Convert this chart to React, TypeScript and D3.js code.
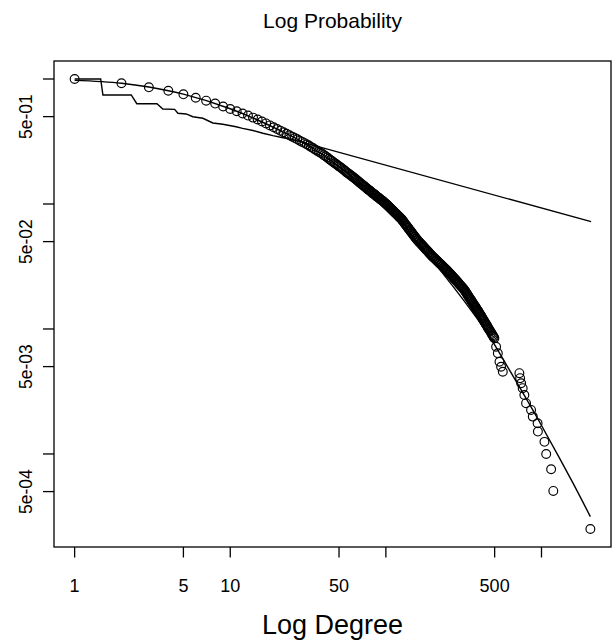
import React from 'react';
import * as d3 from 'd3';

// Empirical CCDF of the degree distribution (circles)
const degrees = [
  1, 2, 3, 4, 5, 6, 7, 8, 9, 10,
  11, 12, 13, 14, 15, 16, 17, 18, 19, 20, 21, 22, 23, 24, 25, 26, 27, 28, 29, 30,
  31, 32, 33, 34, 35, 36, 37, 38, 39, 40, 41, 42, 43, 44, 45, 46, 47, 48, 49, 50, 51, 52,
  54, 56, 58, 60, 62, 64, 66, 68, 70, 72, 74, 76, 78, 80, 82, 84, 86, 88, 90, 92, 94, 96, 98, 100,
  102, 104, 106, 108, 110, 112, 114, 116, 118, 120, 122, 124, 126, 128, 130,
  133, 136, 139, 142, 145, 148, 151, 154, 157, 160,
  164, 168, 172, 176, 180, 184, 188, 192, 196, 200,
  205, 210, 215, 220, 225, 230, 235, 240, 245, 250,
  255, 260, 265, 270, 275, 280, 285, 290, 295, 300,
  306, 312, 318, 324, 330, 336, 342, 348, 354, 360, 366, 372, 378, 384, 390, 396,
  403, 410, 417, 424, 431, 438, 445, 452, 459, 470, 480, 490,
  498, 511, 524, 537, 550, 564,
  721, 729, 740, 757, 776, 796, 857, 879, 944, 948, 1045, 1072, 1153, 1191, 2061,
  // further degrees inside the dense band
  53, 55, 57, 59, 61, 63, 65, 67, 69, 71, 73, 75, 77, 79, 81, 83, 85, 87, 89, 91, 93, 95, 97, 99,
  101, 103, 105, 107, 109, 111, 113, 115, 117, 119, 121, 123, 125, 127, 129,
  132, 135, 138, 141, 144, 147, 150, 153, 156, 159,
  162, 166, 170, 174, 178, 182, 186, 190, 194, 198,
  202, 207, 212, 217, 222, 227, 232, 237, 242, 247, 252, 257, 262, 267, 272, 277, 282, 287, 292, 297,
  303, 309, 315, 321, 327, 333, 339, 345, 351, 357, 363, 369, 375, 381, 387, 393, 399,
  406, 413, 420, 427, 434, 441, 448, 455, 464, 475, 485, 494,
];
const ccdf = [
  1.0, 0.924, 0.858, 0.806, 0.754, 0.708, 0.671, 0.636, 0.603, 0.575,
  0.552, 0.530, 0.510, 0.491, 0.474, 0.457, 0.441, 0.425, 0.411, 0.398, 0.386, 0.375, 0.365, 0.355, 0.346, 0.337, 0.329, 0.321, 0.314, 0.307,
  0.300, 0.294, 0.286, 0.280, 0.273, 0.268, 0.262, 0.257, 0.252, 0.246, 0.241, 0.236, 0.230, 0.225, 0.221, 0.216, 0.212, 0.208, 0.204, 0.200, 0.197, 0.193,
  0.186, 0.179, 0.174, 0.168, 0.163, 0.158, 0.153, 0.148, 0.144, 0.140, 0.136, 0.132, 0.129, 0.126, 0.122, 0.120, 0.117, 0.114, 0.112, 0.109, 0.107, 0.105, 0.1025, 0.1005,
  0.0981, 0.0958, 0.0936, 0.0915, 0.0895, 0.0875, 0.0856, 0.0838, 0.0821, 0.0804, 0.0788, 0.0773, 0.0757, 0.0738, 0.0720,
  0.0693, 0.0668, 0.0644, 0.0622, 0.0601, 0.0581, 0.0562, 0.0544, 0.0527, 0.0512,
  0.0495, 0.0480, 0.0465, 0.0450, 0.0437, 0.0424, 0.0412, 0.0400, 0.0389, 0.0379,
  0.0368, 0.0358, 0.0348, 0.0338, 0.0329, 0.0321, 0.0312, 0.0305, 0.0297, 0.0290,
  0.0282, 0.0275, 0.0268, 0.0261, 0.0254, 0.0248, 0.0242, 0.0236, 0.0230, 0.0225,
  0.0219, 0.0213, 0.0207, 0.0200, 0.0193, 0.0186, 0.0180, 0.0174, 0.0169, 0.0163, 0.0158, 0.0153, 0.0149, 0.0144, 0.0140, 0.0136,
  0.0131, 0.0127, 0.0122, 0.0118, 0.0114, 0.0110, 0.0107, 0.0103, 0.0100, 0.00953, 0.00910, 0.00873,
  0.00843, 0.00721, 0.00640, 0.00547, 0.00499, 0.00455,
  0.00443, 0.00404, 0.00368, 0.00336, 0.00296, 0.00255, 0.00225, 0.00199, 0.00176, 0.00151, 0.00125, 0.00100, 0.000755, 0.000506, 0.000251,
  0.1895, 0.1825, 0.1765, 0.171, 0.1655, 0.1605, 0.1555, 0.1505, 0.146, 0.142, 0.138, 0.134, 0.1305, 0.1275, 0.124, 0.121, 0.1185, 0.1155, 0.113, 0.1105, 0.108, 0.106, 0.1038, 0.1015,
  0.0993, 0.097, 0.0947, 0.0926, 0.0905, 0.0885, 0.0866, 0.0847, 0.083, 0.0813, 0.0796, 0.0781, 0.0765, 0.0748, 0.0729,
  0.0702, 0.0676, 0.0652, 0.0629, 0.0608, 0.0588, 0.0568, 0.055, 0.0533, 0.0517,
  0.0503, 0.0487, 0.0472, 0.0457, 0.0443, 0.043, 0.0418, 0.0406, 0.0394, 0.0384,
  0.0375, 0.0364, 0.0354, 0.0344, 0.0334, 0.0326, 0.0317, 0.0309, 0.0302, 0.0294, 0.0287, 0.0279, 0.0272, 0.0265, 0.0258, 0.0252, 0.0246, 0.024, 0.0234, 0.0228,
  0.0222, 0.0216, 0.021, 0.02035, 0.01965, 0.01895, 0.0183, 0.0177, 0.01715, 0.0166, 0.01605, 0.01555, 0.0151, 0.01465, 0.0142, 0.0138, 0.01335,
  0.0129, 0.01245, 0.012, 0.0116, 0.0112, 0.01085, 0.0105, 0.01015, 0.00977, 0.00931, 0.00891, 0.00858,
];

// Power-law fit line (stepped at small degrees, straight afterwards)
const powerDeg = [1, 1.47, 1.52, 2.31, 2.51, 3.38, 3.69, 4.39, 4.61, 5.21, 5.75, 6.67, 7.73, 8.96, 10.9, 12.0, 14.0, 16.2, 18.8, 21.8, 24.6, 2083];
const powerProb = [1, 1, 0.745, 0.745, 0.634, 0.634, 0.575, 0.572, 0.532, 0.525, 0.499, 0.485, 0.445, 0.434, 0.415, 0.403, 0.387, 0.368, 0.352, 0.339, 0.330, 0.0722];

// Curved (log-normal-like) fit
const curveDeg = [1, 2, 3, 5, 10, 20, 30, 50, 70, 100, 125, 150, 200, 270, 350, 450, 622, 970, 1303, 1585, 2061];
const curveProb = [0.975, 0.925, 0.862, 0.757, 0.578, 0.398, 0.307, 0.2, 0.143, 0.1, 0.0741, 0.0543, 0.0351, 0.0219, 0.01429, 0.00923, 0.0047, 0.00181, 0.000931, 0.000592, 0.000315];

const xTicks = [1, 5, 10, 50, 100, 500, 1000];
const xTickLabels = ['1', '5', '10', '50', '', '500', ''];
const yTicks = [1, 0.5, 0.1, 0.05, 0.01, 0.005, 0.001, 0.0005];
const yTickLabels = ['', '5e-01', '', '5e-02', '', '5e-03', '', '5e-04'];

const titleText = 'Log Probability';
const xLabelText = 'Log Degree';

const W = 612;
const H = 642;
const M = { left: 54, right: 611, top: 61, bottom: 547 };
const FONT = '"Liberation Sans", Arial, Helvetica, sans-serif';

function logDomain(vals: number[]): [number, number] {
  const [a, b] = d3.extent(vals) as [number, number];
  const la = Math.log10(a);
  const lb = Math.log10(b);
  const e = (lb - la) * 0.04;
  return [Math.pow(10, la - e), Math.pow(10, lb + e)];
}

export default function App() {
  const x = d3.scaleLog().domain(logDomain(degrees)).range([M.left, M.right]);
  const y = d3.scaleLog().domain(logDomain(ccdf)).range([M.bottom, M.top]);

  const lineStraight = d3
    .line<number>()
    .x((_, i) => x(powerDeg[i]))
    .y((_, i) => y(powerProb[i]));
  const lineCurve = d3
    .line<number>()
    .x((_, i) => x(curveDeg[i]))
    .y((_, i) => y(curveProb[i]))
    .curve(d3.curveMonotoneX);

  return (
    <svg
      width={W}
      height={H}
      style={{ position: 'absolute', left: 0, top: 0, display: 'block', background: '#fff' }}
      fontFamily={FONT}
    >
      <rect x={0} y={0} width={W} height={H} fill="#fff" />
      {/* points */}
      <g fill="none" stroke="#000" strokeWidth={1.15}>
        {degrees.map((d, i) => (
          <circle key={i} cx={x(d)} cy={y(ccdf[i])} r={4.4} />
        ))}
      </g>
      {/* fits */}
      <path d={lineStraight(powerDeg) || ''} fill="none" stroke="#000" strokeWidth={1.4} />
      <path d={lineCurve(curveDeg) || ''} fill="none" stroke="#000" strokeWidth={1.4} />
      {/* frame */}
      <rect
        x={M.left}
        y={M.top}
        width={M.right - M.left}
        height={M.bottom - M.top}
        fill="none"
        stroke="#000"
        strokeWidth={1.3}
      />
      {/* x axis */}
      <g>
        {xTicks.map((t, i) => (
          <g key={i}>
            <line x1={x(t)} x2={x(t)} y1={M.bottom} y2={M.bottom + 10.5} stroke="#000" strokeWidth={1.3} />
            {xTickLabels[i] && (
              <text x={x(t)} y={592} textAnchor="middle" fontSize={18} fill="#000">
                {xTickLabels[i]}
              </text>
            )}
          </g>
        ))}
      </g>
      {/* y axis */}
      <g>
        {yTicks.map((t, i) => (
          <g key={i}>
            <line x1={M.left - 11} x2={M.left} y1={y(t)} y2={y(t)} stroke="#000" strokeWidth={1.3} />
            {yTickLabels[i] && (
              <text
                transform={`translate(32,${y(t)}) rotate(-90)`}
                textAnchor="middle"
                fontSize={17.5}
                fill="#000"
              >
                {yTickLabels[i]}
              </text>
            )}
          </g>
        ))}
      </g>
      <text x={(M.left + M.right) / 2} y={28} textAnchor="middle" fontSize={21} fill="#000">
        {titleText}
      </text>
      <text x={(M.left + M.right) / 2} y={634} textAnchor="middle" fontSize={27} fill="#000">
        {xLabelText}
      </text>
    </svg>
  );
}
